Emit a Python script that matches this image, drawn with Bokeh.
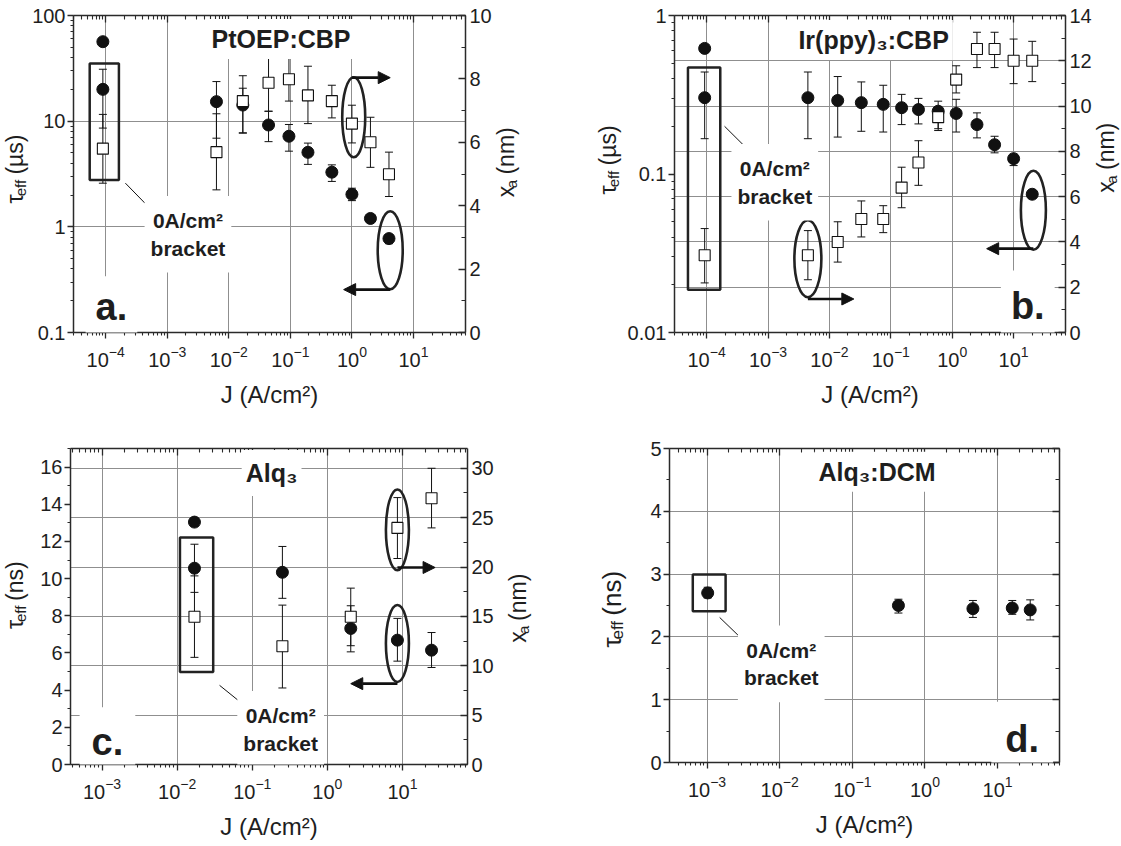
import math
from bokeh.plotting import figure
from bokeh.layouts import column, row
from bokeh.models import (ColumnDataSource, Range1d, LinearAxis, LogAxis, FixedTicker,
                          SingleIntervalTicker, Whisker, TeeHead, Label, BoxAnnotation,
                          Arrow, NormalHead, Grid, CustomJSTickFormatter, LinearScale)
from bokeh.core.properties import value
from bokeh.embed import file_html
from bokeh.resources import INLINE

# ---------------- data ----------------
# (a) PtOEP:CBP
a_J = [9e-5, 6.3e-3, 0.0169, 0.0442, 0.0948, 0.193, 0.472, 1.0, 2.0, 4.0]
a_tau = [20.0, 15.3, 14.2, 9.2, 7.2, 5.07, 3.29, 2.03, 1.2, 0.774]
a_tau_hi = [31.0, 23.7, 20.5, 12.4, 9.3, 6.2, 3.86, 2.32, 1.25, 0.845]
a_tau_lo = [8.6, 6.9, 7.7, 6.4, 5.2, 3.9, 2.69, 1.77, 1.14, 0.693]
a_xa = [5.80, 5.69, 7.30, 7.88, 7.99, 7.48, 7.30, 6.59, 6.0, 4.99]
a_xa_hi = [6.88, 6.90, 8.10, 8.78, 8.68, 8.40, 7.80, 7.17, 6.79, 5.69]
a_xa_lo = [4.71, 4.50, 6.30, 6.98, 7.30, 6.59, 6.77, 5.98, 5.21, 4.29]
a_extra_J = [9e-5]
a_extra_tau = [56.5]

# (b) Ir(ppy)3:CBP
b_J = [9.3e-5, 4.46e-3, 0.01365, 0.0331, 0.0753, 0.15, 0.282, 0.591, 1.16, 2.53, 4.9, 10.0, 20.1]
b_tau = [0.303, 0.303, 0.291, 0.282, 0.275, 0.262, 0.255, 0.249, 0.241, 0.205, 0.153, 0.125, 0.0745]
b_tau_hi = [0.44, 0.44, 0.412, 0.381, 0.363, 0.318, 0.300, 0.288, 0.296, 0.243, 0.173, 0.133, 0.0781]
b_tau_lo = [0.167, 0.167, 0.171, 0.186, 0.184, 0.205, 0.207, 0.188, 0.184, 0.169, 0.136, 0.113, 0.0703]
b_xa = [3.41, 3.41, 4.0, 5.01, 5.01, 6.4, 7.51, 9.51, 11.17, 12.52, 12.52, 12.0, 12.0]
b_xa_hi = [4.59, 4.5, 4.89, 5.81, 5.6, 7.3, 8.47, 9.96, 11.78, 13.26, 13.26, 12.96, 12.86]
b_xa_lo = [2.19, 2.33, 3.11, 4.22, 4.41, 5.51, 6.5, 9.0, 10.58, 11.70, 11.70, 10.99, 11.08]
b_extra_J = [9.3e-5]
b_extra_tau = [0.62]

# (c) Alq3
c_J = [0.0170, 0.252, 2.05, 8.57, 24.4]
c_tau = [10.56, 10.34, 7.32, 6.69, 6.15]
c_tau_hi = [11.85, 11.73, 8.54, 7.86, 7.1]
c_tau_lo = [9.26, 8.94, 6.06, 5.56, 5.22]
c_xa = [14.96, 11.97, 14.96, 23.96, 26.96]
c_xa_hi = [19.1, 16.14, 17.86, 27.03, 30.0]
c_xa_lo = [10.85, 7.75, 12.03, 20.86, 23.96]
c_extra_J = [0.0170]
c_extra_tau = [13.04]

# (d) Alq3:DCM
d_J = [1.02e-3, 0.431, 4.57, 15.9, 28.1]
d_tau = [2.70, 2.50, 2.45, 2.46, 2.43]
d_tau_hi = [2.79, 2.60, 2.58, 2.58, 2.59]
d_tau_lo = [2.62, 2.38, 2.31, 2.36, 2.27]

# ---------------- style ----------------
FONT = "Liberation Sans"
TXT = "#1e1e1e"
INK = "#111111"
AX = "#2a2a2a"
GRID = "#8f8f8f"
TICK_PX = "20px"
BRACKET = "0A/cm\u00b2\nbracket"

CW = {"τ": 0.52, "e": 0.556, "f": 0.278, " ": 0.278, "(": 0.333, ")": 0.333,
      "µ": 0.576, "s": 0.5, "n": 0.556, "m": 0.833, "x": 0.5, "a": 0.556}


def tw(text, size):
    return sum(CW.get(ch, 0.55) for ch in text) * size


def log_ticks(lo, hi):
    majors, minors = [], []
    for e in range(-6, 4):
        d = 10.0 ** e
        if lo <= d * 1.0000001 and d <= hi * 1.0000001:
            majors.append(d)
        for k in range(2, 10):
            v = k * d
            if lo <= v <= hi:
                minors.append(v)
    return majors, minors


def style_axis(ax, side, hide_labels=False):
    ax.axis_line_color = AX
    ax.axis_line_width = 1.5
    ax.major_tick_line_color = AX
    ax.minor_tick_line_color = AX
    ax.major_tick_line_width = 1.3
    ax.minor_tick_line_width = 1.1
    ax.major_label_text_font = FONT
    ax.major_label_text_font_size = TICK_PX
    ax.major_label_text_color = TXT
    if side == "left":
        ax.major_tick_out, ax.major_tick_in = 6, 0
        ax.minor_tick_out, ax.minor_tick_in = 3, 0
        ax.major_label_standoff = 2
    elif side == "below":
        ax.major_tick_out, ax.major_tick_in = 6, 0
        ax.minor_tick_out, ax.minor_tick_in = 3, 0
        ax.major_label_standoff = 7
    else:
        ax.major_tick_out, ax.major_tick_in = 0, 7
        ax.minor_tick_out, ax.minor_tick_in = 0, 4
        ax.major_label_standoff = 4
    if hide_labels:
        ax.formatter = CustomJSTickFormatter(code="return '';")
        ax.major_label_text_font_size = "2px"
        ax.major_label_standoff = 0


def make_fig(xr, yr, ylog, fw, fh, bl, br, bt, bb):
    p = figure(x_axis_type="log", y_axis_type=("log" if ylog else "linear"),
               x_range=Range1d(*xr), y_range=Range1d(*yr),
               frame_width=fw, frame_height=fh,
               min_border_left=bl, min_border_right=br,
               min_border_top=bt, min_border_bottom=bb,
               output_backend="svg", toolbar_location=None)
    p.outline_line_color = None
    p.background_fill_color = "white"
    p.border_fill_color = "white"
    maj, mnr = log_ticks(*xr)
    bx = p.below[0]
    bx.ticker = FixedTicker(ticks=maj, minor_ticks=mnr)
    style_axis(bx, "below")
    bx.axis_label = "J (A/cm\u00b2)"
    bx.axis_label_text_font = FONT
    bx.axis_label_text_font_size = "24px"
    bx.axis_label_text_font_style = "normal"
    bx.axis_label_text_color = TXT
    bx.axis_label_standoff = 11
    top = LogAxis(ticker=FixedTicker(ticks=maj, minor_ticks=mnr))
    style_axis(top, "above", hide_labels=True)
    p.add_layout(top, "above")
    p.xgrid.ticker = FixedTicker(ticks=maj)
    p.xgrid.grid_line_color = GRID
    p.xgrid.grid_line_width = 1
    p.ygrid.grid_line_color = GRID
    p.ygrid.grid_line_width = 1
    ly = p.left[0]
    if ylog:
        ymaj, ymin = log_ticks(*yr)
        ly.ticker = FixedTicker(ticks=ymaj, minor_ticks=ymin)
        ly.formatter = CustomJSTickFormatter(code="return String(tick);")
    style_axis(ly, "left")
    return p


def add_right(p, rng, interval, labels=True):
    if rng is not None:
        p.extra_y_ranges = {"r": Range1d(*rng)}
        p.extra_y_scales = {"r": LinearScale()}
        ax = LinearAxis(y_range_name="r",
                        ticker=SingleIntervalTicker(interval=interval, num_minor_ticks=2))
    else:
        ax = LinearAxis(ticker=SingleIntervalTicker(interval=interval, num_minor_ticks=2))
    style_axis(ax, "right", hide_labels=not labels)
    p.add_layout(ax, "right")


def right_grid(p, ticks):
    p.ygrid.visible = False
    g = Grid(dimension=1, ticker=FixedTicker(ticks=ticks), y_range_name="r",
             grid_line_color=GRID, grid_line_width=1)
    p.add_layout(g)


def add_err(p, xs, lo, hi, rname=None):
    src = ColumnDataSource(dict(base=xs, lower=lo, upper=hi))
    kw = {"y_range_name": rname} if rname else {}
    w = Whisker(source=src, base="base", lower="lower", upper="upper", dimension="height",
                line_color=INK, line_width=1,
                upper_head=TeeHead(size=8, line_color=INK, line_width=1),
                lower_head=TeeHead(size=8, line_color=INK, line_width=1), **kw)
    p.add_layout(w)


def circles(p, xs, ys):
    p.scatter(xs, ys, marker="circle", size=12, fill_color=INK, line_color=INK)


def squares(p, xs, ys):
    p.scatter(xs, ys, marker="square", size=11, fill_color="white", line_color=INK,
              line_width=1.1, y_range_name="r")


def text(p, x, y, t, size, rname=None, bold=True, baseline="middle", pad=(4, 6)):
    kw = {"y_range_name": rname} if rname else {}
    p.add_layout(Label(x=x, y=y, text=t, text_align="center", text_baseline=baseline,
                       text_font=FONT, text_font_style=("bold" if bold else "normal"),
                       text_font_size=f"{size}px", text_color=TXT,
                       background_fill_color="white", padding=pad, **kw))


def bracket(p, l, r, b, t):
    p.add_layout(BoxAnnotation(left=l, right=r, bottom=b, top=t, fill_color=None,
                               line_color="#222222", line_alpha=1.0, line_width=2.5))


def leader(p, x0, y0, x1, y1):
    p.segment([x0], [y0], [x1], [y1], line_color=INK, line_width=1)


def ellipse(p, x, y, w, h, rname=None):
    kw = {"y_range_name": rname} if rname else {}
    p.ellipse([x], [y], width=w, height=h, width_units="screen", height_units="screen",
              fill_color=None, line_color="#222222", line_width=2.6, **kw)


def arrow(p, x0, x1, y, rname=None):
    kw = {"y_range_name": rname} if rname else {}
    p.add_layout(Arrow(x_start=x0, y_start=y, x_end=x1, y_end=y, line_color=INK, line_width=2.6,
                       end=NormalHead(size=12, fill_color=INK, line_color=INK), **kw))


# ---- side strips holding the rotated axis titles (with real subscripts) ----
def strip(width, height, titles):
    s = figure(width=width, height=height, x_range=Range1d(0, width),
               y_range=Range1d(0, height), x_axis_location=None, y_axis_location=None,
               min_border=0, toolbar_location=None, output_backend="svg")
    s.outline_line_color = None
    s.grid.visible = False
    s.background_fill_color = "white"
    s.border_fill_color = "white"
    for main, sub, unit, x, y, size in titles:
        sub_size = round(size * 0.65)
        parts = [(main, size, 0, 0), (sub, sub_size, 6, 0), (f"({unit})", size, 0, 0.7 * size)]
        cur = y
        for t, fs, dx, gap in parts:
            cur += gap
            w = tw(t, fs)
            s.text(x=[x + dx], y=[cur + w / 2], text=[t], angle=math.pi / 2,
                   text_align="center", text_baseline="middle",
                   text_font=value(FONT), text_font_size=value(f"{fs}px"),
                   text_color=TXT)
            cur += w
    return s


# ---------------- panel a ----------------
pa = make_fig((3.0e-5, 70), (0.1, 100), True, 392, 317, 40, 29, 15, 88)
add_right(pa, (0, 10), 2)
pa.ygrid.ticker = FixedTicker(ticks=[1, 10])
add_err(pa, a_J, a_tau_lo, a_tau_hi)
add_err(pa, a_J, a_xa_lo, a_xa_hi, "r")
circles(pa, a_extra_J, a_extra_tau)
circles(pa, a_J, a_tau)
squares(pa, a_J, a_xa)
bracket(pa, 5.5e-5, 1.64e-4, 2.78, 35.2)
leader(pa, 2.09e-4, 2.59, 4.36e-4, 1.67)
ellipse(pa, 1.07, 6.79, 23, 80, "r")
arrow(pa, 1.0, 4.19, 8.04, "r")
ellipse(pa, 4.19, 0.6, 25, 78)
arrow(pa, 4.19, 0.734, 0.2548)
text(pa, 0.0706, 60, "PtOEP:CBP", 25)
text(pa, 2.17e-3, 0.851, BRACKET, 21, pad=(6, 13))
text(pa, 1.24e-4, 0.173, "a.", 38, baseline="alphabetic", pad=(10, 10))

# ---------------- panel b ----------------
pb = make_fig((3.0e-5, 70), (0.01, 1), True, 391, 317, 49, 29, 15, 88)
add_right(pb, (0, 14), 2)
right_grid(pb, [2, 4, 6, 8, 10, 12])
add_err(pb, b_J, b_tau_lo, b_tau_hi)
add_err(pb, b_J, b_xa_lo, b_xa_hi, "r")
circles(pb, b_extra_J, b_extra_tau)
circles(pb, b_J, b_tau)
squares(pb, b_J, b_xa)
bracket(pb, 4.97e-5, 1.67e-4, 0.0186, 0.47)
leader(pb, 1.96e-4, 0.2, 4.0e-4, 0.152)
ellipse(pb, 4.46e-3, 3.26, 27, 77, "r")
arrow(pb, 4.46e-3, 0.025, 1.48, "r")
ellipse(pb, 21, 0.0591, 25, 79)
arrow(pb, 21, 3.64, 0.0338)
text(pb, 0.0525, 0.70, "Ir(ppy)\u2083:CBP", 25)
text(pb, 1.29e-3, 0.0887, BRACKET, 21, pad=(6, 13))
text(pb, 17, 0.0148, "b.", 38, baseline="alphabetic", pad=(10, 14))

# ---------------- panel c ----------------
pc = make_fig((3.8e-4, 73.5), (0, 17), False, 397, 316, 41, 29, 26, 83)
pc.left[0].ticker = SingleIntervalTicker(interval=2, num_minor_ticks=2)
add_right(pc, (0, 32), 5)
right_grid(pc, [5, 10, 15, 20, 25, 30])
add_err(pc, c_J, c_tau_lo, c_tau_hi)
add_err(pc, c_J, c_xa_lo, c_xa_hi, "r")
circles(pc, c_extra_J, c_extra_tau)
circles(pc, c_J, c_tau)
squares(pc, c_J, c_xa)
bracket(pc, 0.0109, 0.0302, 4.98, 12.21)
leader(pc, 0.0367, 4.26, 0.065, 3.45)
ellipse(pc, 8.57, 23.76, 23, 81, "r")
arrow(pc, 8.57, 27.2, 19.95, "r")
ellipse(pc, 8.57, 6.51, 23, 77)
arrow(pc, 8.57, 2.05, 4.35)
text(pc, 0.181, 15.68, "Alq\u2083", 25, pad=(4, 9))
text(pc, 0.239, 1.89, BRACKET, 21, pad=(6, 13))
text(pc, 1.18e-3, 1.2, "c.", 38, baseline="alphabetic", pad=(12, 14))

# ---------------- panel d ----------------
pd = make_fig((3.04e-4, 71.1), (0, 5), False, 390, 314, 30, 60, 28, 83)
pd.left[0].ticker = SingleIntervalTicker(interval=1, num_minor_ticks=2)
pd.ygrid.ticker = FixedTicker(ticks=[1, 2, 3, 4])
add_right(pd, None, 1, labels=False)
add_err(pd, d_J, d_tau_lo, d_tau_hi)
circles(pd, d_J, d_tau)
bracket(pd, 6.36e-4, 1.80e-3, 2.41, 2.995)
leader(pd, 1.49e-3, 2.31, 2.71e-3, 2.02)
text(pd, 0.219, 4.63, "Alq\u2083:DCM", 25)
text(pd, 0.0105, 1.57, BRACKET, 21, pad=(6, 13))
text(pd, 21.8, 0.378, "d.", 38, baseline="alphabetic", pad=(14, 16))

# ---------------- axis-title strips ----------------
s1 = strip(29, 420, [("τ", "eff", "µs", 14, 171, 23)])
s2 = strip(130, 420, [("x", "a", "nm", 11, 181, 23), ("τ", "eff", "µs", 113, 183, 23)])
s3 = strip(31, 420, [("x", "a", "nm", 11, 187, 23)])
s4 = strip(29, 425, [("τ", "eff", "ns", 14, 181, 23)])
s5 = strip(143, 425, [("x", "a", "nm", 21, 164, 23), ("τ", "eff", "ns", 115, 156, 26)])

layout = column(row(s1, pa, s2, pb, s3), row(s4, pc, s5, pd))
open("out.html", "w").write(file_html(layout, INLINE))
